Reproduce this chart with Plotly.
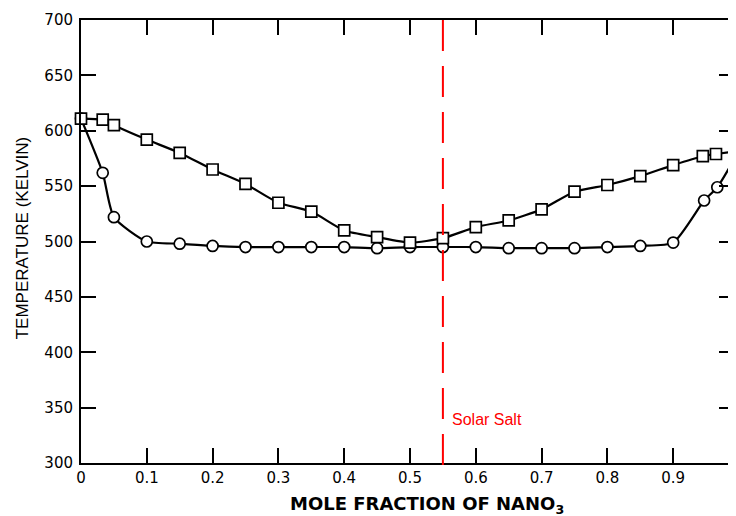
import plotly.graph_objects as go

# Data
x_liquidus = [0, 0.033, 0.05, 0.1, 0.15, 0.2, 0.25, 0.3, 0.35, 0.4, 0.45, 0.5, 0.55,
              0.6, 0.65, 0.7, 0.75, 0.8, 0.85, 0.9, 0.945, 0.965, 1.0]
t_liquidus = [611, 610, 605, 592, 580, 565, 552, 535, 527, 510, 504, 499, 503,
              513, 519, 529, 545, 551, 559, 569, 577, 579, 582]

x_solidus = [0, 0.033, 0.05, 0.1, 0.15, 0.2, 0.25, 0.3, 0.35, 0.4, 0.45, 0.5, 0.55,
             0.6, 0.65, 0.7, 0.75, 0.8, 0.85, 0.9, 0.947, 0.967, 1.0]
t_solidus = [611, 562, 522, 500, 498, 496, 495, 495, 495, 495, 494, 495, 495,
             495, 494, 494, 494, 495, 496, 499, 537, 549, 582]

x_ticks = [0, 0.1, 0.2, 0.3, 0.4, 0.5, 0.6, 0.7, 0.8, 0.9]
x_tick_labels = ["0", "0.1", "0.2", "0.3", "0.4", "0.5", "0.6", "0.7", "0.8", "0.9"]
y_ticks = [300, 350, 400, 450, 500, 550, 600, 650, 700]

solar_salt_x = 0.55
solar_salt_label_y = 339
solar_salt_label = "Solar Salt"
x_title = "MOLE FRACTION OF NANO<sub>3</sub>"
y_title = "TEMPERATURE (KELVIN)"

FONT = "Liberation Sans, Arial, sans-serif"
TICKFONT = "DejaVu Sans, sans-serif"

fig = go.Figure()

fig.add_trace(go.Scatter(
    x=x_solidus, y=t_solidus, mode="lines+markers",
    line=dict(color="black", width=2.2, shape="spline", smoothing=0.6),
    marker=dict(symbol="circle", size=11, color="white",
                line=dict(color="black", width=1.7)),
    cliponaxis=False, showlegend=False,
))
fig.add_trace(go.Scatter(
    x=x_liquidus, y=t_liquidus, mode="lines+markers",
    line=dict(color="black", width=2.2, shape="spline", smoothing=0.6),
    marker=dict(symbol="square", size=11, color="white",
                line=dict(color="black", width=1.7)),
    cliponaxis=False, showlegend=False,
))

fig.add_shape(type="line", xref="x", yref="y domain",
              x0=solar_salt_x, x1=solar_salt_x, y0=1, y1=-0.02,
              line=dict(color="red", width=2, dash="31px,15px"))

fig.add_annotation(x=solar_salt_x, y=solar_salt_label_y, xref="x", yref="y",
                   text=solar_salt_label, showarrow=False,
                   xanchor="left", yanchor="middle", xshift=7,
                   font=dict(family=FONT, size=16, color="red"))

fig.add_annotation(x=0.53, y=-0.063, xref="paper", yref="paper",
                   text="<b>" + x_title + "</b>", showarrow=False,
                   xanchor="center", yanchor="top",
                   font=dict(family=TICKFONT, size=18, color="black"))
fig.add_annotation(x=-0.089, y=0.507, xref="paper", yref="paper",
                   text=y_title, showarrow=False, textangle=-90,
                   xanchor="center", yanchor="middle",
                   font=dict(family=FONT, size=17, color="black"))

fig.update_xaxes(range=[0, 0.9924], tickvals=x_ticks, ticktext=x_tick_labels,
                 ticks="inside", ticklen=15, tickwidth=2, tickcolor="black",
                 showline=True, linecolor="black", linewidth=2, mirror="ticks",
                 showgrid=False, zeroline=False,
                 tickfont=dict(family=TICKFONT, size=15, color="black"))
fig.update_yaxes(range=[300, 700], tickvals=y_ticks,
                 ticks="inside", ticklen=15, tickwidth=2, tickcolor="black",
                 showline=True, linecolor="black", linewidth=2, mirror="ticks",
                 showgrid=False, zeroline=False, ticklabelstandoff=3,
                 tickfont=dict(family=TICKFONT, size=15, color="black"))

# The page body adds an 8px offset; size the figure so the plot lands where the reference has it
fig.update_layout(width=728, height=508,
                  margin=dict(l=73, r=0, t=12, b=53),
                  paper_bgcolor="white", plot_bgcolor="white")

fig.write_html("out.html")
